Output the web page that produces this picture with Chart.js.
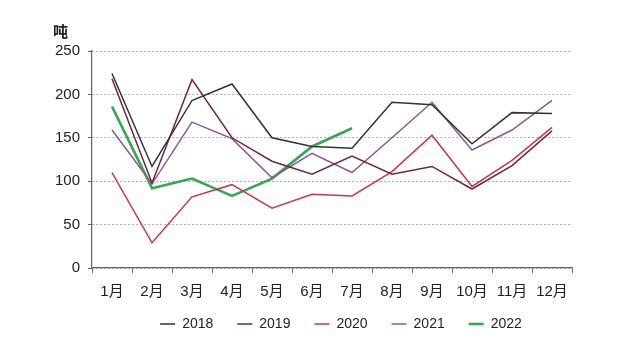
<!DOCTYPE html>
<html>
<head>
<meta charset="utf-8">
<script src="https://cdn.jsdelivr.net/npm/chart.js@4/dist/chart.umd.min.js"></script>
<style>
  html, body { margin: 0; padding: 0; background: #fff; }
  #wrap { width: 640px; height: 349px; }
</style>
</head>
<body>
<div id="wrap"><canvas id="c"></canvas></div>
<script>
// months and yearly tonnage
var months = ["1月", "2月", "3月", "4月", "5月", "6月", "7月", "8月", "9月", "10月", "11月", "12月"];
var y2018 = [224, 117, 193, 212, 150, 140, 138, 191, 188, 143, 179, 178];
var y2019 = [218, 98, 217, 150, 123, 108, 129, 108, 117, 91, 118, 158];
var y2020 = [110, 29, 82, 96, 69, 85, 83, 111, 153, 94, 124, 162];
var y2021 = [159, 97, 168, 149, 104, 132, 110, 150, 191, 136, 159, 193];
var y2022 = [186, 92, 103, 83, 103, 140, 161];
var yTicks = [0, 50, 100, 150, 200, 250];

var font = "'Liberation Sans', 'Noto Sans CJK SC', sans-serif";

function series(label, data, color, width) {
    return {
        label: label,
        data: data,
        borderColor: color,
        backgroundColor: color,
        borderWidth: width,
        pointRadius: 0,
        pointStyle: "line",
        tension: 0,
        fill: false
    };
}

/* unit label in the top left corner, and legend nudged into place */
var extras = {
    id: "extras",
    afterLayout(chart) {
        var lg = chart.legend;
        lg.left += 55;
        lg.right += 55;
        lg.top -= 8;
        lg.bottom -= 8;
    },
    afterDraw(chart) {
        var ctx = chart.ctx;
        ctx.save();
        ctx.font = "bold 15px " + font;
        ctx.fillStyle = "#222";
        ctx.textBaseline = "middle";
        ctx.fillText("吨", 53, 33);
        ctx.restore();
    }
};

new Chart(document.getElementById("c"), {
    type: "line",
    data: {
        labels: months,
        datasets: [
            series("2018", y2018, "#333333", 1.5),
            series("2019", y2019, "#6e2838", 1.5),
            series("2020", y2020, "#c8374f", 1.5),
            series("2021", y2021, "#8c5a8c", 1.5),
            series("2022", y2022, "#33a853", 2.6)
        ]
    },
    options: {
        responsive: true,
        maintainAspectRatio: false,
        animation: false,
        layout: { padding: { top: 51, right: 68, bottom: 0, left: 0 } },
        plugins: {
            tooltip: { enabled: false },
            legend: {
                position: "bottom",
                labels: {
                    usePointStyle: true,
                    pointStyleWidth: 15,
                    padding: 24,
                    color: "#222",
                    font: { family: font, size: 14 }
                }
            }
        },
        scales: {
            x: {
                offset: true,
                afterFit: s => { s.height = 33; },
                grid: {
                    offset: true,
                    drawOnChartArea: false,
                    tickLength: 5,
                    tickColor: "#666"
                },
                border: { color: "#666", width: 1.2 },
                ticks: {
                    color: "#222",
                    padding: 10,
                    maxRotation: 0,
                    autoSkip: false,
                    font: { family: font, size: 15 }
                }
            },
            y: {
                min: 0,
                max: 250,
                afterFit: s => { s.width = 92; },
                afterBuildTicks: s => { s.ticks = yTicks.map(v => ({ value: v })); },
                grid: {
                    color: "#aaa",
                    tickLength: 4,
                    tickColor: "#666"
                },
                border: { color: "#666", width: 1.2, dash: [2, 2] },
                ticks: {
                    color: "#222",
                    padding: 8,
                    font: { family: font, size: 15 }
                }
            }
        }
    },
    plugins: [extras]
});
</script>
</body>
</html>
